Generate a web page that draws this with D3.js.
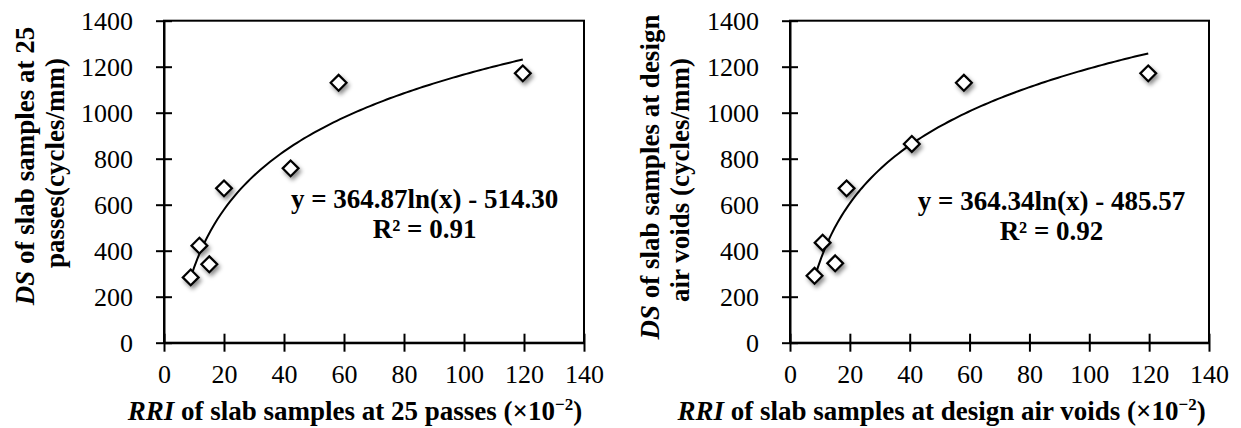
<!DOCTYPE html>
<html>
<head>
<meta charset="utf-8">
<script src="https://cdn.jsdelivr.net/npm/d3@7/dist/d3.min.js"></script>
<style>
  html, body { margin: 0; padding: 0; background: #fff; }
  svg { display: block; }
  text { font-family: "Liberation Serif", "Times New Roman", serif; fill: #000; }
</style>
</head>
<body>
<svg id="chart" width="1241" height="428"></svg>
<script>
// Rut resistance index (RRI, ×10⁻²) vs dynamic stability (DS, cycles/mm)
const xTicks = [0, 20, 40, 60, 80, 100, 120, 140];
const yTicks = [0, 200, 400, 600, 800, 1000, 1200, 1400];

// Slab samples at 25 passes
const passesRRI = [8.9, 11.8, 15.1, 20.0, 42.2, 58.2, 119.6];
const passesDS  = [284, 422, 341, 671, 758, 1130, 1171];
const passesFit = [364.87, -514.30];   // y = a ln(x) + b
const passesR2  = "0.91";

// Slab samples at design air voids
const voidsRRI = [8.2, 10.9, 15.1, 18.9, 40.7, 58.1, 119.7];
const voidsDS  = [291, 435, 345, 671, 864, 1130, 1171];
const voidsFit = [364.34, -485.57];
const voidsR2  = "0.92";

const SERIF = '"Liberation Serif", "Times New Roman", serif';
const svg = d3.select("#chart");

// soft shadow under the diamond markers
const defs = svg.append("defs");
const f = defs.append("filter").attr("id", "shadow")
  .attr("x", "-50%").attr("y", "-50%").attr("width", "200%").attr("height", "200%");
f.append("feDropShadow").attr("dx", 2).attr("dy", 3).attr("stdDeviation", 2)
  .attr("flood-color", "#000").attr("flood-opacity", 0.45);

function fmtFit(c) {
  const sign = c[1] < 0 ? " - " : " + ";
  return "y = " + c[0].toFixed(2) + "ln(x)" + sign + Math.abs(c[1]).toFixed(2);
}

function panel(opt) {
  const x = d3.scaleLinear().domain([0, 140]).range([opt.x0, opt.x1]);
  const y = d3.scaleLinear().domain([0, 1400]).range([342.7, 20.7]);
  const g = svg.append("g");

  // plot frame
  g.append("rect")
    .attr("x", opt.x0).attr("y", y(1400))
    .attr("width", opt.x1 - opt.x0).attr("height", y(0) - y(1400))
    .attr("fill", "none").attr("stroke", "#000").attr("stroke-width", 2);

  const yAxis = g.append("g")
    .attr("transform", `translate(${opt.x0},0)`)
    .call(d3.axisLeft(y).tickValues(yTicks).tickFormat(d3.format("d"))
      .tickSizeInner(8).tickSizeOuter(0).tickPadding(23));
  yAxis.selectAll(".tick line").attr("x1", -8).attr("x2", 8);

  const xAxis = g.append("g")
    .attr("transform", `translate(0,${y(0)})`)
    .call(d3.axisBottom(x).tickValues(xTicks).tickFormat(d3.format("d"))
      .tickSizeInner(9).tickSizeOuter(0).tickPadding(13));
  xAxis.selectAll(".tick line").attr("y1", -9).attr("y2", 9);

  [yAxis, xAxis].forEach(a => {
    a.attr("font-family", SERIF).attr("font-size", 26);
    a.selectAll("path, line").attr("stroke", "#000").attr("stroke-width", 2);
    a.selectAll("text").attr("fill", "#000")
      .style("font-family", SERIF).style("font-size", "26px");
  });

  // logarithmic trend line over the measured range
  const lo = d3.min(opt.rri), hi = d3.max(opt.rri);
  const xs = d3.range(0, 101).map(i => lo + (hi - lo) * i / 100);
  g.append("path")
    .datum(xs)
    .attr("fill", "none").attr("stroke", "#000").attr("stroke-width", 2)
    .attr("d", d3.line().x(d => x(d)).y(d => y(opt.fit[0] * Math.log(d) + opt.fit[1])));

  // data markers
  const sym = d3.symbol().type(d3.symbolDiamond2).size(160);
  g.selectAll(".pt").data(opt.rri.map((v, i) => [v, opt.ds[i]]))
    .join("path")
    .attr("transform", d => `translate(${x(d[0])},${y(d[1])})`)
    .attr("d", sym)
    .attr("fill", "#fff").attr("stroke", "#000").attr("stroke-width", 2.2)
    .attr("filter", "url(#shadow)");

  // fit equation
  g.append("text").attr("x", opt.eqX).attr("y", opt.eqY)
    .attr("text-anchor", "middle").style("font-size", "27px").style("font-weight", "bold")
    .text(fmtFit(opt.fit));
  g.append("text").attr("x", opt.eqX).attr("y", opt.eqY + 29.5)
    .attr("text-anchor", "middle").style("font-size", "27px").style("font-weight", "bold")
    .text("R² = " + opt.r2);

  // x-axis title
  const xt = g.append("text").attr("x", opt.xtX).attr("y", 419.5)
    .attr("text-anchor", "middle").style("font-size", "27px").style("font-weight", "bold");
  xt.append("tspan").style("font-style", "italic").text("RRI");
  xt.append("tspan").text(" of slab samples at " + opt.xtText + " (×10");
  xt.append("tspan").attr("dy", -10).style("font-size", "17px").text("−2");
  xt.append("tspan").attr("dy", 10).text(")");

  // y-axis title (two lines)
  opt.ytLines.forEach((line, i) => {
    const t = g.append("text")
      .attr("transform", `translate(${opt.ytX[i]},${opt.ytY[i]}) rotate(-90)`)
      .attr("text-anchor", "middle").style("font-size", "27px").style("font-weight", "bold");
    if (i === 0) {
      t.append("tspan").style("font-style", "italic").text("DS");
      t.append("tspan").text(line);
    } else {
      t.text(line);
    }
  });
}

panel({
  x0: 164, x1: 584, rri: passesRRI, ds: passesDS, fit: passesFit, r2: passesR2,
  eqX: 424.6, eqY: 208,
  xtX: 355, xtText: "25 passes",
  ytLines: [" of slab samples at 25", "passes(cycles/mm)"],
  ytX: [34, 64], ytY: [166, 163]
});

panel({
  x0: 790, x1: 1209, rri: voidsRRI, ds: voidsDS, fit: voidsFit, r2: voidsR2,
  eqX: 1051.5, eqY: 210,
  xtX: 941.6, xtText: "design air voids",
  ytLines: [" of slab samples at design", "air voids (cycles/mm)"],
  ytX: [659, 689], ytY: [177, 180]
});
</script>
</body>
</html>
